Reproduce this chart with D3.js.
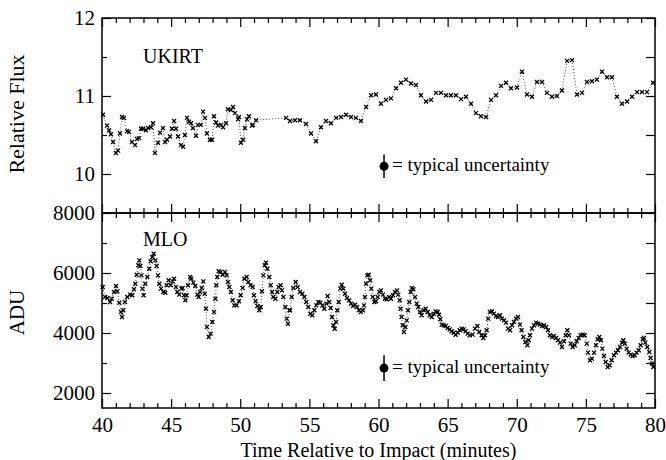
<!DOCTYPE html>
<html>
<head>
<meta charset="utf-8">
<script src="https://cdn.jsdelivr.net/npm/d3@7"></script>
<style>
  body { margin: 0; background: #fff; }
  svg text { font-family: "Liberation Serif", "Times New Roman", serif; fill: #000; }
</style>
</head>
<body>
<div id="chart"></div>
<script>
// UKIRT relative flux (top panel)
const ukirtTime = [
  40.07, 40.36, 40.51, 40.65, 40.80, 41.01, 41.16, 41.30, 41.45, 41.59,
  41.81, 41.95, 42.17, 42.39, 42.53, 42.68, 42.82, 42.97, 43.18, 43.33,
  43.54, 43.69, 43.83, 44.05, 44.20, 44.41, 44.56, 44.70, 44.92, 45.06,
  45.21, 45.35, 45.50, 45.71, 45.86, 46.00, 46.15, 46.29, 46.44, 46.58,
  46.80, 46.94, 47.16, 47.31, 47.45, 47.59, 47.81, 47.96, 48.10, 48.25,
  48.39, 48.61, 48.75, 48.97, 49.11, 49.33, 49.48, 49.62, 49.84, 49.91,
  50.05, 50.20, 50.34, 50.49, 50.63, 50.85, 50.92, 51.14,
  53.31, 53.60, 53.96, 54.32, 54.76, 55.12, 55.48, 55.84, 56.20, 56.56,
  56.93, 57.29, 57.65, 58.01, 58.37, 58.73, 59.10,
  59.46, 59.82, 60.18, 60.54, 60.90, 61.27, 61.63, 61.99, 62.35, 62.71,
  63.07, 63.44, 63.80, 64.16, 64.52, 64.88, 65.24, 65.61, 65.97, 66.33,
  66.69, 67.05, 67.41, 67.78, 68.14, 68.50, 68.86, 69.22, 69.58, 70.02,
  70.38, 70.74, 71.10, 71.46, 71.83, 72.19, 72.55, 72.91, 73.27, 73.64,
  74.00, 74.36, 74.72, 75.08, 75.44, 75.80, 76.17, 76.53, 76.89, 77.25,
  77.61, 77.98, 78.34, 78.70, 79.06, 79.42, 79.86
];
const ukirtFlux = [
  10.76, 10.62, 10.56, 10.51, 10.41, 10.27, 10.30, 10.52, 10.73, 10.72,
  10.55, 10.54, 10.41, 10.37, 10.45, 10.46, 10.58, 10.58, 10.56, 10.59,
  10.60, 10.65, 10.27, 10.40, 10.53, 10.59, 10.41, 10.44, 10.48, 10.58,
  10.68, 10.58, 10.48, 10.37, 10.35, 10.50, 10.72, 10.67, 10.65, 10.59,
  10.49, 10.63, 10.63, 10.80, 10.72, 10.52, 10.44, 10.44, 10.74, 10.66,
  10.62, 10.63, 10.60, 10.65, 10.83, 10.82, 10.86, 10.78, 10.70, 10.73,
  10.40, 10.44, 10.59, 10.70, 10.74, 10.62, 10.63, 10.69,
  10.72, 10.68, 10.69, 10.69, 10.64, 10.52, 10.42, 10.60, 10.68, 10.65,
  10.72, 10.73, 10.76, 10.73, 10.72, 10.68, 10.86,
  11.01, 11.02, 10.90, 10.95, 10.97, 11.10, 11.17, 11.21, 11.16, 11.14,
  11.01, 10.93, 10.95, 11.04, 11.04, 11.01, 11.01, 11.01, 10.96, 10.99,
  10.90, 10.78, 10.74, 10.73, 10.95, 11.01, 11.13, 11.17, 11.10, 11.11,
  11.31, 11.02, 10.99, 11.18, 11.18, 11.04, 10.99, 11.00, 11.07, 11.45,
  11.46, 11.02, 11.04, 11.18, 11.19, 11.21, 11.31, 11.24, 11.24, 10.99,
  10.90, 10.93, 10.99, 11.05, 11.05, 11.05, 11.17
];

// MLO counts (bottom panel)
const mloTime = [
  40.05, 40.22, 40.39, 40.58, 40.70, 40.87, 41.01, 41.11, 41.25, 41.37,
  41.45, 41.54, 41.66, 41.83, 42.03, 42.19, 42.31, 42.41, 42.51, 42.63,
  42.70, 42.77, 42.85, 42.92, 43.01, 43.13, 43.28, 43.42, 43.52, 43.64,
  43.74, 43.86, 43.95, 44.05, 44.15, 44.27, 44.44, 44.58, 44.68, 44.82,
  44.97, 45.11, 45.21, 45.35, 45.45, 45.59, 45.74, 45.83, 45.93, 46.03,
  46.12, 46.22, 46.37, 46.46, 46.61, 46.75, 46.90, 46.99, 47.09, 47.21,
  47.33, 47.43, 47.52, 47.59, 47.72, 47.86, 47.98, 48.10, 48.20, 48.27,
  48.34, 48.44, 48.58, 48.73, 48.90, 49.02, 49.11, 49.21, 49.33, 49.45,
  49.57, 49.74, 49.91, 50.03, 50.17, 50.30, 50.46, 50.58, 50.75, 50.90,
  50.99, 51.11, 51.24, 51.38, 51.48, 51.57, 51.67, 51.77, 51.86, 51.96,
  52.10, 52.20, 52.30, 52.39, 52.54, 52.68, 52.78, 52.92, 53.02, 53.12,
  53.26, 53.36, 53.45, 53.57,
  53.60, 53.72, 53.84, 54.01, 54.15, 54.32, 54.49, 54.64, 54.78, 54.92,
  55.07, 55.21, 55.36, 55.50, 55.65, 55.79, 55.94, 56.08, 56.23, 56.32,
  56.44, 56.54, 56.64, 56.73, 56.83, 56.93, 57.02, 57.12, 57.24, 57.34,
  57.46, 57.58, 57.72, 57.87, 58.01, 58.16, 58.30, 58.45, 58.59, 58.73,
  58.88, 58.95, 59.02, 59.10, 59.19, 59.29, 59.39, 59.48, 59.58, 59.70,
  59.82, 59.94, 60.06, 60.18, 60.32, 60.47, 60.61, 60.76, 60.90, 61.05,
  61.19, 61.34, 61.43, 61.53, 61.60, 61.67, 61.75, 61.84, 61.94, 62.04,
  62.13, 62.23, 62.33, 62.42, 62.52, 62.64, 62.76, 62.88, 63.00, 63.12,
  63.27, 63.41, 63.56, 63.70, 63.85, 63.99, 64.13, 64.28, 64.38, 64.47,
  64.57, 64.71, 64.86, 65.00, 65.15, 65.29, 65.44, 65.58, 65.73, 65.87,
  66.02, 66.16, 66.30, 66.45, 66.59,
  66.81, 66.98, 67.15, 67.29, 67.46, 67.58, 67.70, 67.82, 67.94, 68.06,
  68.21, 68.35, 68.50, 68.64, 68.79, 68.93, 69.08, 69.22, 69.37, 69.51,
  69.66, 69.80, 69.95, 70.09, 70.23, 70.35, 70.48, 70.62, 70.77, 70.86,
  70.96, 71.10, 71.25, 71.39, 71.54, 71.68, 71.83, 71.97, 72.12, 72.26,
  72.40, 72.55, 72.69, 72.84, 72.98, 73.13, 73.27, 73.42, 73.54, 73.66,
  73.78, 73.90, 74.04, 74.19, 74.33, 74.48, 74.62, 74.77, 74.91, 75.06,
  75.15, 75.30, 75.44, 75.59, 75.73, 75.85, 75.97, 76.09, 76.19, 76.31,
  76.43, 76.58, 76.72, 76.86, 77.03, 77.18, 77.32, 77.47, 77.61, 77.71,
  77.83, 77.95, 78.09, 78.24, 78.38, 78.53, 78.67, 78.82, 78.96, 79.11,
  79.20, 79.30, 79.44, 79.59, 79.68, 79.78, 79.88
];
const mloAdu = [
  5533, 5200, 5167, 5033, 5144, 5367, 5567, 5389, 5011, 4700,
  4533, 4756, 5033, 5200, 5278, 5256, 5456, 5644, 5944, 6256,
  6422, 6233, 5922, 5478, 5256, 5644, 5867, 6144, 6389, 6533,
  6644, 6422, 6233, 5922, 5644, 5478, 5367, 5344, 5589, 5756,
  5589, 5722, 5811, 5533, 5367, 5278, 5478, 5500, 5256, 5089,
  5256, 5589, 5867, 5811, 5678, 5567, 5278, 5200, 5367, 5500,
  5722, 5311, 4811, 4200, 3867, 3978, 4367, 4700, 5144, 5589,
  5867, 6056, 6033, 5944, 6033, 5922, 5700, 5533, 5367, 5089,
  4922, 4922, 5056, 5256, 5500, 5811, 5867, 5700, 5589, 5533,
  5256, 5056, 4900, 4756, 4867, 5389, 5922, 6256, 6344, 6144,
  5867, 5589, 5367, 5200, 5144, 5367, 5533, 5589, 5422, 5200,
  4867, 4478, 4311, 4756,
  4756, 5200, 5500, 5700, 5533, 5367, 5311, 5200, 5033, 4867,
  4644, 4589, 4756, 4922, 5033, 5011, 4922, 4811, 4978, 5233,
  5033, 4833, 4533, 4256, 4144, 4367, 4756, 5033, 5478, 5611,
  5478, 5311, 5167, 5089, 4978, 4900, 4944, 4867, 4756, 4700,
  4756, 4922, 5200, 5644, 5922, 5944, 5756, 5478, 5200, 5033,
  5056, 5200, 5367, 5422, 5278, 5144, 5122, 5200, 5144, 5256,
  5367, 5422, 5278, 5089, 4811, 4533, 4256, 4033, 4200, 4422,
  4756, 5033, 5367, 5500, 5456, 5200, 4978, 4867, 4700, 4589,
  4756, 4811, 4700, 4589, 4533, 4644, 4722, 4700, 4611, 4456,
  4278, 4256, 4233, 4167, 4122, 4056, 4011, 3944, 4011, 4089,
  4144, 4122, 4056, 3978, 3922,
  3946, 4146, 4235, 4035, 3924, 3835, 3924, 4090, 4479, 4702,
  4724, 4646, 4568, 4535, 4590, 4479, 4424, 4346, 4146, 4090,
  4257, 4368, 4479, 4535, 4279, 4090, 3868, 3702, 3590, 3757,
  3924, 4146, 4257, 4346, 4313, 4279, 4235, 4257, 4202, 4090,
  3924, 3868, 3902, 3835, 3757, 3679, 3535, 3724, 3924, 4090,
  3924, 3646, 3535, 3590, 3724, 3835, 3924, 3946, 3924, 3646,
  3346, 3091, 3146, 3346, 3590, 3791, 3868, 3757, 3479, 3235,
  3035, 2868, 2924, 3091, 3257, 3346, 3424, 3535, 3679, 3757,
  3646, 3479, 3346, 3279, 3235, 3257, 3346, 3424, 3590, 3791,
  3835, 3679, 3535, 3368, 3168, 2979, 2868
];

// ticks
const xMajor = [40, 45, 50, 55, 60, 65, 70, 75, 80];
const xMinor = d3.range(40, 81, 1).filter(d => d % 5 !== 0);
const topMajor = [10, 11, 12];
const topMinor = [10.5, 11.5];
const botMajor = [2000, 4000, 6000, 8000];
const botMinor = [3000, 5000, 7000];

// "typical uncertainty" markers: [time, value, half error]
const topUncert = [60.4, 10.1, 0.15];
const botUncert = [60.4, 2830, 430];

const W = 666, H = 460;
const left = 102, right = 655;
const topY0 = 18, midY = 213, botY1 = 408;

const svg = d3.select('#chart').append('svg')
  .attr('width', W).attr('height', H);

const x = d3.scaleLinear().domain([40, 80]).range([left, right]);
const yTop = d3.scaleLinear().domain([9.5, 12]).range([midY, topY0]);
const yBot = d3.scaleLinear().domain([1500, 8000]).range([botY1, midY]);

const MAJ = 9, MIN = 5;
const fmt = d3.format('d');

function styleAxis(g) {
  g.select('.domain').remove();
  g.selectAll('.tick line').attr('stroke', '#000').attr('stroke-width', 1.2);
  g.selectAll('.tick text').attr('font-size', 21).attr('fill', '#000')
    .attr('font-family', '"Liberation Serif", serif');
}

function drawPanel(y, yMaj, yMin, y0, y1, showX) {
  // left axis
  svg.append('g').attr('transform', `translate(${left},0)`)
    .call(d3.axisLeft(y).tickValues(yMaj).tickSize(-MAJ).tickPadding(7).tickFormat(fmt))
    .call(styleAxis);
  svg.append('g').attr('transform', `translate(${left},0)`)
    .call(d3.axisLeft(y).tickValues(yMin).tickSize(-MIN).tickFormat(''))
    .call(styleAxis);
  // right axis
  svg.append('g').attr('transform', `translate(${right},0)`)
    .call(d3.axisRight(y).tickValues(yMaj.concat(yMin)).tickSize(-MAJ).tickFormat(''))
    .call(styleAxis);
  // top x ticks
  svg.append('g').attr('transform', `translate(0,${y0})`)
    .call(d3.axisTop(x).tickValues(xMajor).tickSize(-MAJ).tickFormat(''))
    .call(styleAxis);
  svg.append('g').attr('transform', `translate(0,${y0})`)
    .call(d3.axisTop(x).tickValues(xMinor).tickSize(-MIN).tickFormat(''))
    .call(styleAxis);
  // bottom x ticks
  svg.append('g').attr('transform', `translate(0,${y1})`)
    .call(d3.axisBottom(x).tickValues(xMajor).tickSize(-MAJ).tickPadding(9)
      .tickFormat(showX ? fmt : ''))
    .call(styleAxis);
  svg.append('g').attr('transform', `translate(0,${y1})`)
    .call(d3.axisBottom(x).tickValues(xMinor).tickSize(-MIN).tickFormat(''))
    .call(styleAxis);
  // frame
  svg.append('rect')
    .attr('x', left).attr('y', y0)
    .attr('width', right - left).attr('height', y1 - y0)
    .attr('fill', 'none').attr('stroke', '#000').attr('stroke-width', 1.5);
}

drawPanel(yTop, topMajor, topMinor, topY0, midY, false);
drawPanel(yBot, botMajor, botMinor, midY, botY1, true);

const cross = 'M-2,-2L2,2M-2,2L2,-2';

function drawSeries(times, vals, y) {
  const pts = times.map((t, i) => [t, vals[i]]);
  svg.append('path')
    .datum(pts)
    .attr('fill', 'none')
    .attr('stroke', '#333')
    .attr('stroke-width', 0.9)
    .attr('stroke-dasharray', '1,2')
    .attr('d', d3.line().x(d => x(d[0])).y(d => y(d[1])));
  svg.append('g').selectAll('path')
    .data(pts)
    .join('path')
    .attr('transform', d => `translate(${x(d[0])},${y(d[1])})`)
    .attr('d', cross)
    .attr('stroke', '#000')
    .attr('stroke-width', 1.3)
    .attr('fill', 'none');
}

drawSeries(ukirtTime, ukirtFlux, yTop);
drawSeries(mloTime, mloAdu, yBot);

function drawUncert(u, y) {
  const [t, v, e] = u;
  svg.append('line')
    .attr('x1', x(t)).attr('x2', x(t))
    .attr('y1', y(v - e)).attr('y2', y(v + e))
    .attr('stroke', '#000').attr('stroke-width', 1.5);
  svg.append('circle')
    .attr('cx', x(t)).attr('cy', y(v)).attr('r', 4.5).attr('fill', '#000');
  svg.append('text')
    .attr('x', x(t) + 8).attr('y', y(v) + 5)
    .attr('font-size', 19)
    .text('= typical uncertainty');
}

drawUncert(topUncert, yTop);
drawUncert(botUncert, yBot);

// panel labels
svg.append('text').attr('x', 143).attr('y', 63).attr('font-size', 20).text('UKIRT');
svg.append('text').attr('x', 143).attr('y', 246).attr('font-size', 20).text('MLO');

// axis titles
svg.append('text')
  .attr('transform', `translate(24,114) rotate(-90)`)
  .attr('text-anchor', 'middle')
  .attr('font-size', 22)
  .text('Relative Flux');
svg.append('text')
  .attr('transform', `translate(24,${(midY + botY1) / 2 + 2}) rotate(-90)`)
  .attr('text-anchor', 'middle')
  .attr('font-size', 21)
  .text('ADU');
svg.append('text')
  .attr('x', (left + right) / 2)
  .attr('y', 457)
  .attr('text-anchor', 'middle')
  .attr('font-size', 20)
  .text('Time Relative to Impact (minutes)');
</script>
</body>
</html>
